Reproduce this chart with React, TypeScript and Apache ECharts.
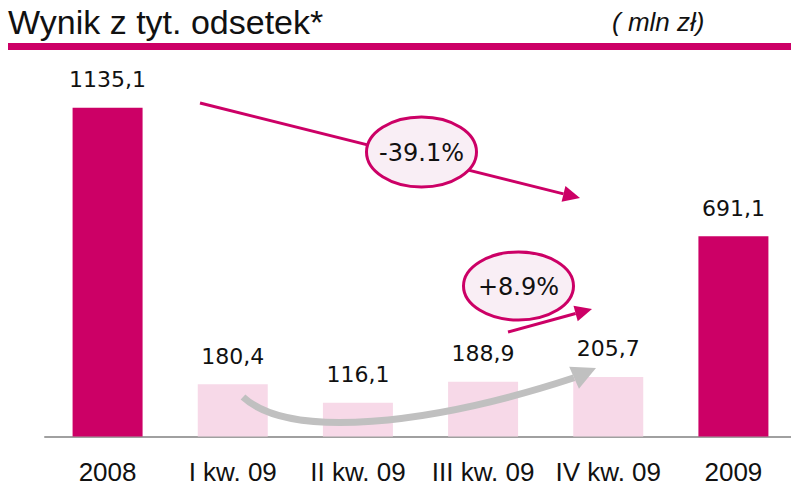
import React, { useEffect, useRef } from "react";
import * as echarts from "echarts";

const categories = ["2008", "I kw. 09", "II kw. 09", "III kw. 09", "IV kw. 09", "2009"];
const values = [1135.1, 180.4, 116.1, 188.9, 205.7, 691.1];
const annualCategories = ["2008", "2009"];
const titleText = "Wynik z tyt. odsetek*";
const unitText = "( mln zł)";
const changeYear = "-39.1%";
const changeQuarter = "+8.9%";

const MAGENTA = "#CC0066";
const PINK = "#F7D9E8";

export default function App() {
  const ref = useRef<HTMLDivElement>(null);
  useEffect(() => {
    document.body.style.margin = "0";
    document.body.style.overflow = "hidden";
    const chart = echarts.init(ref.current!, null, { renderer: "svg" });
    const arrowHead = (x1: number, y1: number, tx: number, ty: number, len: number, half: number) => {
      const dx = tx - x1, dy = ty - y1;
      const l = Math.hypot(dx, dy);
      const ux = dx / l, uy = dy / l;
      const bx = tx - ux * len, by = ty - uy * len;
      const px = -uy * half, py = ux * half;
      return {
        base: [bx, by],
        points: [[tx, ty], [bx + px, by + py], [bx - px, by - py]],
      };
    };
    const a1 = arrowHead(200, 103, 580, 198, 17, 8);
    const a2 = arrowHead(508, 332, 592, 309, 17, 8);
    const a3 = arrowHead(560, 384, 596, 368, 24, 12);
    const overlay: any[] = [
      {
        type: "line",
        shape: { x1: 200, y1: 103, x2: a1.base[0], y2: a1.base[1] },
        style: { stroke: MAGENTA, lineWidth: 3 },
      },
      { type: "polygon", shape: { points: a1.points }, style: { fill: MAGENTA } },
      {
        type: "ellipse",
        shape: { cx: 421.5, cy: 152, rx: 55, ry: 35 },
        style: { fill: "#F9EEF5", stroke: MAGENTA, lineWidth: 3 },
      },
      {
        type: "text",
        x: 421.5,
        y: 153,
        style: {
          text: changeYear,
          fontSize: 24,
          fill: "#111",
          align: "center",
          verticalAlign: "middle",
          fontFamily: "DejaVu Sans, Verdana, sans-serif",
        },
      },
      {
        type: "bezierCurve",
        shape: { x1: 243, y1: 397, cpx1: 290, cpy1: 440, cpx2: 430, cpy2: 425, x2: a3.base[0], y2: a3.base[1] },
        style: { stroke: "#C0C0C0", lineWidth: 7, fill: null },
      },
      { type: "polygon", shape: { points: a3.points }, style: { fill: "#C0C0C0" } },
      {
        type: "line",
        shape: { x1: 508, y1: 332, x2: a2.base[0], y2: a2.base[1] },
        style: { stroke: MAGENTA, lineWidth: 3 },
      },
      { type: "polygon", shape: { points: a2.points }, style: { fill: MAGENTA } },
      {
        type: "ellipse",
        shape: { cx: 518.5, cy: 286, rx: 55, ry: 34 },
        style: { fill: "#F9EEF5", stroke: MAGENTA, lineWidth: 3 },
      },
      {
        type: "text",
        x: 518.5,
        y: 287,
        style: {
          text: changeQuarter,
          fontSize: 24,
          fill: "#111",
          align: "center",
          verticalAlign: "middle",
          fontFamily: "DejaVu Sans, Verdana, sans-serif",
        },
      },
    ].map((e) => ({ ...e, z: 100 }));
    chart.setOption({
      animation: false,
      grid: { left: 45, width: 751, top: 31, height: 405.5 },
      xAxis: {
        type: "category",
        data: categories,
        axisLine: { lineStyle: { color: "#A0A0A0", width: 2 } },
        axisTick: { show: false },
        axisLabel: {
          interval: 0,
          margin: 22,
          color: "#111",
          fontSize: 26,
          fontFamily: "Liberation Sans, Arial, sans-serif",
        },
      },
      yAxis: { type: "value", min: 0, max: 1400, show: false, splitLine: { show: false } },
      series: [
        {
          type: "bar",
          barWidth: 70,
          z: 1,
          data: values.map((v, i) => ({
            value: v,
            itemStyle: { color: annualCategories.includes(categories[i]) ? MAGENTA : PINK },
          })),
          label: {
            show: true,
            position: "top",
            distance: 17,
            color: "#111",
            fontSize: 22,
            fontFamily: "DejaVu Sans, Verdana, sans-serif",
            formatter: (p: any) => Number(p.value).toFixed(1).replace(".", ","),
          },
        },
      ],
      graphic: [
        {
          type: "text",
          left: 8,
          top: 5,
          style: { text: titleText, fontSize: 34, fill: "#111", fontFamily: "Liberation Sans, Arial, sans-serif" },
        },
        {
          type: "text",
          left: 612,
          top: 9,
          style: {
            text: unitText,
            fontSize: 26,
            fontStyle: "italic",
            fill: "#111",
            fontFamily: "Liberation Sans, Arial, sans-serif",
          },
        },
        {
          type: "rect",
          shape: { x: 8, y: 43, width: 783, height: 7 },
          style: { fill: MAGENTA },
        },
        ...overlay,
      ],
    });
    return () => chart.dispose();
  }, []);
  return <div ref={ref} style={{ width: 800, height: 488 }} />;
}
